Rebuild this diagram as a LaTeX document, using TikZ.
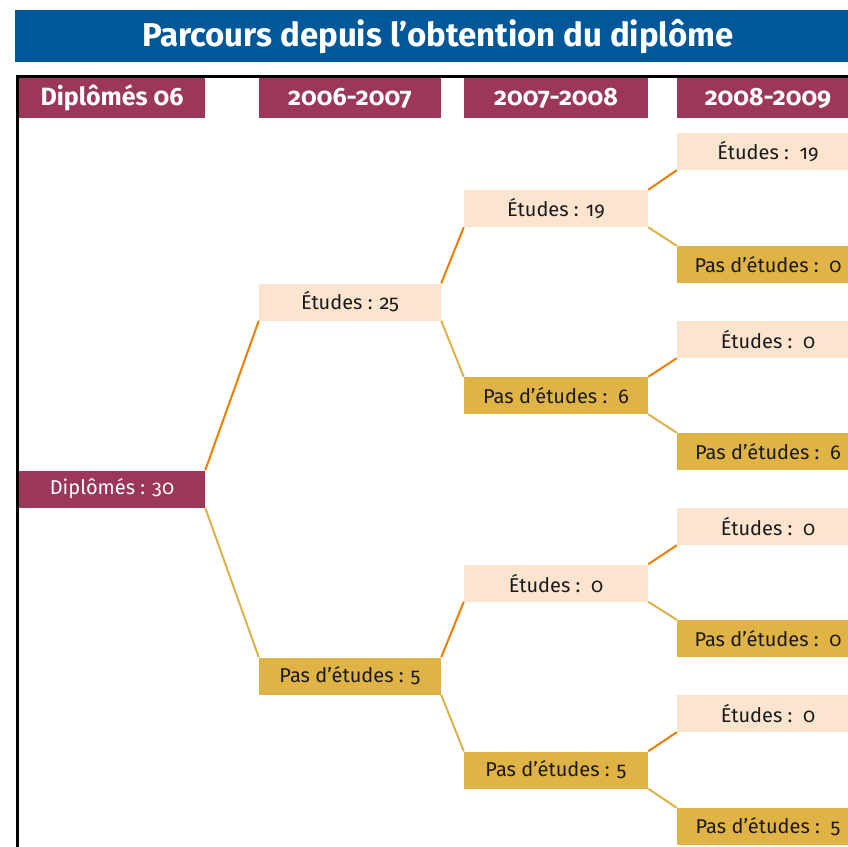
\documentclass[tikz,border=0pt]{standalone}
\usepackage{fontspec}
\setmainfont{Fira Sans}[Numbers=OldStyle]
\definecolor{titleblue}{HTML}{00579A}
\definecolor{maroon}{HTML}{9C3757}
\definecolor{peach}{HTML}{FDE4CE}
\definecolor{gold}{HTML}{E0B346}
\definecolor{lineorange}{HTML}{EE7E00}
\definecolor{linegold}{HTML}{DDB24A}
\definecolor{txt}{HTML}{1A1A1A}
\tikzset{
  box/.style={rectangle, inner sep=0pt, minimum height=37pt, text=txt, font=\fontsize{20}{24}\selectfont},
  headbox/.style={rectangle, inner sep=0pt, fill=maroon, minimum height=40pt, text=white, font=\bfseries\fontsize{25}{28}\selectfont},
  rootbox/.style={box, fill=maroon, text=white},
  yesbox/.style={box, fill=peach},
  nobox/.style={box, fill=gold},
  yesline/.style={draw=lineorange, line width=2pt},
  noline/.style={draw=linegold, line width=2pt},
  w1/.style={minimum width=186pt},
  w2/.style={minimum width=182pt},
  w3/.style={minimum width=184pt},
  w4/.style={minimum width=182pt},
}
\begin{document}
\begin{tikzpicture}[x=1pt,y=-1pt]
\useasboundingbox (0,0) rectangle (848,846);
\fill[white] (0,0) rectangle (848,846);
% title
\node[rectangle, fill=titleblue, minimum width=833pt, minimum height=52pt, inner sep=0pt, anchor=north west] (title) at (15,10) {};
\node[text=white, font=\bfseries\fontsize{33}{36}\selectfont, inner sep=0pt] (titletext) at (438,37) {Parcours depuis l’obtention du diplôme};
% frame
\coordinate (fr1) at (17.5,76.5);
\coordinate (fr2) at (860,76.5);
\coordinate (fr3) at (17.5,860);
\draw[black, line width=2.5pt] (fr2) -- (fr1) -- (fr3);
% headers
\node[headbox, w1] (h1) at (112,98) {Diplômés 06};
\node[headbox, w2] (h2) at (350,98) {2006-2007};
\node[headbox, w3] (h3) at (556,98) {2007-2008};
\node[headbox, w4] (h4) at (768,98) {2008-2009};
% column 1
\node[rootbox, w1] (d30) at (112,489) {Diplômés : 30};
% column 2
\node[yesbox, w2] (e25) at (350,302) {Études : 25};
\node[nobox, w2] (p5) at (350,676) {Pas d’études : 5};
% column 3
\node[yesbox, w3] (e19) at (556,208.5) {Études : 19};
\node[nobox, w3] (p6) at (556,395.5) {Pas d’études :\ \ 6};
\node[yesbox, w3] (e0) at (556,583) {Études :\ \ 0};
\node[nobox, w3] (p5b) at (556,770) {Pas d’études : 5};
% column 4
\node[yesbox, w4] (a1) at (768,151.5) {Études :\ \ 19};
\node[nobox, w4] (a2) at (768,264.5) {Pas d’études :\ \ 0};
\node[yesbox, w4] (a3) at (768,339.5) {Études :\ \ 0};
\node[nobox, w4] (a4) at (768,451.5) {Pas d’études :\ \ 6};
\node[yesbox, w4] (a5) at (768,526.5) {Études :\ \ 0};
\node[nobox, w4] (a6) at (768,638.5) {Pas d’études :\ \ 0};
\node[yesbox, w4] (a7) at (768,713.5) {Études :\ \ 0};
\node[nobox, w4] (a8) at (768,826.5) {Pas d’études :\ \ 5};
% connectors
\draw[yesline] (d30.north east) -- (e25.south west);
\draw[noline] (d30.south east) -- (p5.north west);
\draw[yesline] (e25.north east) -- (e19.south west);
\draw[noline] (e25.south east) -- (p6.north west);
\draw[yesline] (p5.north east) -- (e0.south west);
\draw[noline] (p5.south east) -- (p5b.north west);
\draw[yesline] (e19.north east) -- (a1.south west);
\draw[noline] (e19.south east) -- (a2.north west);
\draw[yesline] (p6.north east) -- (a3.south west);
\draw[noline] (p6.south east) -- (a4.north west);
\draw[yesline] (e0.north east) -- (a5.south west);
\draw[noline] (e0.south east) -- (a6.north west);
\draw[yesline] (p5b.north east) -- (a7.south west);
\draw[noline] (p5b.south east) -- (a8.north west);
\end{tikzpicture}
\end{document}
